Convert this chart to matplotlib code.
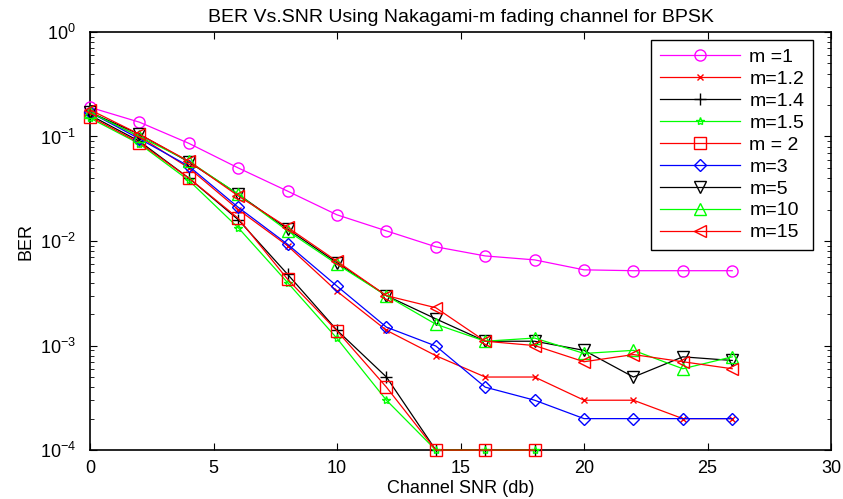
import numpy as np
import matplotlib.pyplot as plt

plt.rcParams['font.family'] = ['Liberation Sans', 'DejaVu Sans']

snr = [0, 2, 4, 6, 8, 10, 12, 14, 16, 18, 20, 22, 24, 26]
nan = np.nan

ber_m1 = [0.19, 0.137, 0.086, 0.050, 0.030, 0.0178, 0.0125, 0.0088, 0.0072, 0.0066, 0.0053, 0.0052, 0.0052, 0.0052]
ber_m12 = [0.17, 0.10, 0.05, 0.02, 0.009, 0.0033, 0.0014, 0.0008, 0.0005, 0.0005, 0.0003, 0.0003, 0.0002, 0.0002]
ber_m14 = [0.16, 0.09, 0.04, 0.016, 0.0048, 0.0014, 0.0005, 0.0001, 0.0001, 0.0001, nan, nan, nan, nan]
ber_m15 = [0.15, 0.085, 0.038, 0.0134, 0.0040, 0.00117, 0.0003, 0.0001, 0.0001, 0.0001, nan, nan, nan, nan]
ber_m2 = [0.155, 0.087, 0.040, 0.0165, 0.0043, 0.00138, 0.0004, 0.0001, 0.0001, 0.0001, nan, nan, nan, nan]
ber_m3 = [0.17, 0.095, 0.052, 0.021, 0.0093, 0.0037, 0.0015, 0.00099, 0.0004, 0.0003, 0.0002, 0.0002, 0.0002, 0.0002]
ber_m5 = [0.17, 0.105, 0.057, 0.028, 0.013, 0.0062, 0.003, 0.0018, 0.0011, 0.0011, 0.0009, 0.0005, 0.00078, 0.00072]
ber_m10 = [0.17, 0.10, 0.058, 0.028, 0.0125, 0.006, 0.003, 0.0016, 0.0011, 0.00118, 0.00084, 0.0009, 0.0006, 0.00078]
ber_m15b = [0.18, 0.105, 0.058, 0.027, 0.0135, 0.0064, 0.003, 0.0023, 0.0011, 0.001, 0.0007, 0.00082, 0.0007, 0.0006]

labels = ['m =1', 'm=1.2', 'm=1.4', 'm=1.5', 'm = 2', 'm=3', 'm=5', 'm=10', 'm=15']
series = [ber_m1, ber_m12, ber_m14, ber_m15, ber_m2, ber_m3, ber_m5, ber_m10, ber_m15b]
colors = ['#ff00ff', '#ff0000', 'k', '#00ff00', '#ff0000', '#0000ff', 'k', '#00ff00', '#ff0000']
markers = ['o', 'x', '+', '*', 's', 'D', 'v', '^', '<']
msizes = [8, 4, 9, 6, 8, 6, 8, 8, 8]

fig = plt.figure(figsize=(8.43, 4.99), dpi=100)
ax = fig.add_axes([0.1068, 0.098, 0.879, 0.838])

for y, lab, c, mk, ms in zip(series, labels, colors, markers, msizes):
    ax.semilogy(snr, y, color=c, marker=mk, markersize=ms, markerfacecolor='none',
                markeredgecolor=c, linewidth=0.9, label=lab, clip_on=False, zorder=3)

ax.set_xlim(0, 30)
ax.set_ylim(1e-4, 1)
ax.set_xticks([0, 5, 10, 15, 20, 25, 30])
ax.tick_params(which='both', direction='in', top=True, right=True, labelsize=13)
ax.tick_params(which='major', length=5)
ax.tick_params(which='minor', length=3)
ax.tick_params(axis='y', which='major', pad=10)
ax.tick_params(axis='x', which='major', pad=7)
for s in ax.spines.values():
    s.set_linewidth(1.2)

ax.set_title('BER Vs.SNR Using Nakagami-m fading channel for BPSK', fontsize=14, pad=7)
ax.set_xlabel('Channel SNR (db)', fontsize=13, labelpad=2)
ax.set_ylabel('BER', fontsize=13, labelpad=4)

leg = ax.legend(loc='upper right', bbox_to_anchor=(0.976, 0.981), borderaxespad=0,
                fontsize=14, fancybox=False, framealpha=1, edgecolor='k',
                handlelength=4.1, handletextpad=0.5, labelspacing=0.22,
                borderpad=0.45)
leg.get_frame().set_linewidth(1.0)
leg.set_zorder(5)

fig.savefig('out.png', dpi=100)
